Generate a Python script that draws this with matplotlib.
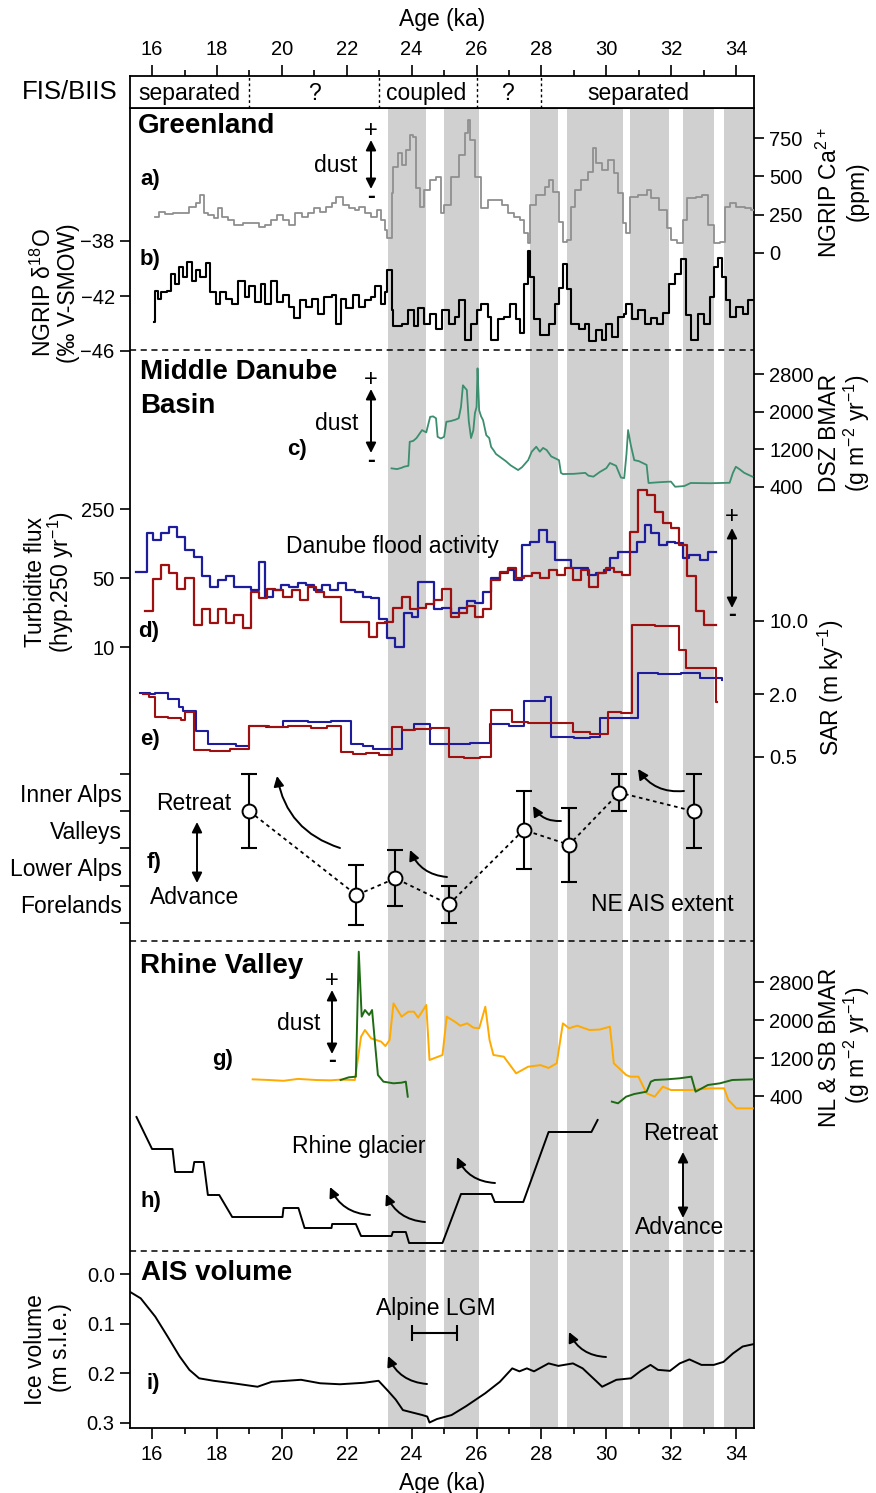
import numpy as np
import matplotlib.pyplot as plt
from matplotlib.ticker import NullLocator

plt.rcParams['font.family'] = ['Liberation Sans', 'DejaVu Sans']
plt.rcParams['mathtext.default'] = 'regular'

# ---------------- data ----------------
# grey interstadial bands (ka)
bands = [(23.27, 24.44), (25.01, 26.08), (27.65, 28.51), (28.79, 30.52),
         (30.73, 31.93), (32.37, 33.31), (33.63, 34.6)]

# FIS/BIIS state
fis_bounds = [19.0, 23.0, 26.0, 28.0]
fis_pos = [17.15, 21.0, 24.45, 26.95, 31.0]
fis_text = ['separated', '?', 'coupled', '?', 'separated']

# a) NGRIP Ca2+ (ppm)
a_age = [16.08, 16.21, 16.40, 16.65, 16.90, 17.15, 17.34, 17.47, 17.59, 17.72,
         17.91, 18.03, 18.16, 18.35, 18.54, 18.79, 19.04, 19.29, 19.48, 19.67,
         19.86, 20.05, 20.23, 20.42, 20.61, 20.80, 20.99, 21.18, 21.37, 21.55,
         21.68, 21.87, 22.06, 22.25, 22.37, 22.56, 22.75, 22.94, 23.06, 23.19,
         23.25, 23.38, 23.44, 23.57, 23.69, 23.82, 23.94, 24.04, 24.13, 24.26,
         24.38, 24.57, 24.76, 24.89, 25.01, 25.20, 25.45, 25.64, 25.74, 25.81,
         25.96, 26.15, 26.34, 26.59, 26.78, 26.96, 27.15, 27.34, 27.47, 27.59,
         27.66, 27.84, 28.10, 28.22, 28.35, 28.54, 28.66, 28.79, 28.91, 29.04,
         29.23, 29.42, 29.58, 29.67, 29.86, 30.05, 30.23, 30.36, 30.51, 30.61,
         30.74, 30.99, 31.24, 31.37, 31.62, 31.87, 31.99, 32.18, 32.37, 32.50,
         32.75, 32.94, 33.13, 33.32, 33.50, 33.66, 33.82, 34.01, 34.26, 34.45,
         34.57]
a_val = [237, 270, 256, 263, 263, 302, 328, 378, 263, 250,
         226, 291, 237, 215, 182, 193, 193, 171, 182, 215,
         248, 215, 182, 263, 237, 258, 291, 269, 302, 324,
         367, 313, 291, 280, 302, 258, 237, 280, 215, 150,
         96, 389, 563, 650, 574, 672, 770, 759, 422, 302,
         411, 476, 498, 258, 313, 498, 639, 781, 867, 737,
         498, 291, 345, 345, 313, 258, 237, 215, 128, 63,
         313, 378, 432, 476, 400, 204, 74, 85, 302, 411,
         476, 530, 683, 585, 541, 606, 520, 389, 193, 128,
         367, 378, 411, 356, 280, 161, 85, 63, 215, 356,
         367, 378, 182, 63, 74, 302, 324, 302, 291, 280,
         150]

# b) NGRIP d18O (permil)
b_age = [16.05, 16.08, 16.17, 16.27, 16.46, 16.59, 16.71, 16.84, 16.96, 17.09,
         17.22, 17.34, 17.47, 17.66, 17.78, 17.97, 18.10, 18.28, 18.47, 18.66,
         18.85, 18.98, 19.17, 19.35, 19.48, 19.67, 19.86, 20.05, 20.23, 20.36,
         20.55, 20.74, 20.93, 21.11, 21.30, 21.55, 21.68, 21.81, 21.99, 22.18,
         22.37, 22.56, 22.75, 22.88, 23.06, 23.19, 23.25, 23.38, 23.44, 23.69,
         23.88, 24.07, 24.20, 24.38, 24.57, 24.76, 24.95, 25.14, 25.33, 25.45,
         25.64, 25.83, 26.02, 26.15, 26.34, 26.46, 26.65, 26.84, 27.03, 27.22,
         27.34, 27.47, 27.57, 27.66, 27.78, 27.97, 28.22, 28.41, 28.54, 28.66,
         28.79, 28.91, 29.16, 29.35, 29.48, 29.67, 29.86, 29.98, 30.17, 30.36,
         30.55, 30.61, 30.80, 30.99, 31.18, 31.37, 31.56, 31.74, 31.93, 32.12,
         32.31, 32.44, 32.62, 32.81, 33.00, 33.19, 33.32, 33.44, 33.57, 33.69,
         33.82, 34.01, 34.20, 34.38, 34.57]
b_val = [-43.9, -41.6, -42.2, -41.7, -41.6, -40.4, -41.1, -39.9, -40.6, -39.5,
         -40.9, -40.1, -40.6, -39.6, -41.7, -42.6, -41.7, -42.2, -42.6, -40.9,
         -42.1, -41.3, -42.4, -41.1, -42.6, -40.9, -42.4, -41.9, -42.8, -43.6,
         -42.3, -42.8, -42.2, -43.3, -42.1, -41.9, -44.0, -42.2, -42.9, -41.9,
         -42.8, -42.3, -42.1, -41.3, -42.6, -41.7, -40.1, -43.0, -44.2, -44.0,
         -43.0, -44.2, -42.9, -44.0, -43.3, -44.4, -43.0, -44.0, -43.5, -42.3,
         -45.2, -44.0, -43.0, -42.6, -43.5, -45.2, -43.7, -43.5, -42.6, -43.7,
         -44.7, -41.1, -38.7, -40.6, -43.7, -44.8, -44.0, -42.6, -41.4, -39.7,
         -41.5, -44.0, -44.4, -44.0, -45.3, -44.5, -45.2, -44.0, -45.0, -43.5,
         -43.3, -42.6, -43.7, -43.0, -44.0, -43.6, -44.0, -43.2, -41.1, -40.4,
         -39.3, -43.4, -45.2, -43.3, -44.0, -42.1, -39.9, -39.2, -40.6, -42.3,
         -43.5, -42.8, -43.3, -42.3, -43.6]

# c) DSZ BMAR (g m-2 yr-1)
c_age = [23.38, 23.55, 23.70, 23.76, 23.90, 23.94, 24.05, 24.15, 24.32, 24.45,
         24.57, 24.66, 24.75, 24.80, 24.90, 25.00, 25.07, 25.20, 25.35, 25.45,
         25.52, 25.58, 25.65, 25.70, 25.76, 25.83, 25.90, 25.95, 26.00, 26.03,
         26.06, 26.08, 26.14, 26.20, 26.30, 26.39, 26.45, 26.52, 26.60, 26.77,
         26.90, 27.05, 27.28, 27.40, 27.59, 27.70, 27.84, 27.95, 28.05, 28.16,
         28.30, 28.45, 28.54, 28.60, 28.66, 29.00, 29.35, 29.45, 29.60, 29.80,
         30.00, 30.11, 30.30, 30.45, 30.55, 30.62, 30.67, 30.75, 30.86, 31.00,
         31.24, 31.30, 31.60, 31.99, 32.12, 32.40, 32.60, 33.20, 33.80, 33.90,
         33.99, 34.10, 34.25, 34.50]
c_val = [796, 780, 810, 830, 850, 1360, 1380, 1440, 1608, 1560,
         1890, 1900, 1860, 1466, 1430, 1466, 1785, 1800, 1830, 1860,
         2100, 2560, 2500, 2460, 1800, 1440, 1600, 1970, 2100, 2920,
         2400, 2030, 1900, 1820, 1500, 1440, 1250, 1185, 1100, 1015,
         950, 860, 760, 820, 970, 1150, 1255, 1150, 1230, 1185,
         1050, 1000, 970, 700, 675, 680, 700, 640, 620, 720,
         800, 910, 850, 600, 590, 1100, 1610, 1300, 970, 950,
         870, 485, 500, 515, 405, 420, 485, 480, 490, 700,
         830, 780, 700, 620]

# d) turbidite flux (two cores)
d_blue_age = [15.52, 15.83, 16.02, 16.27, 16.52, 16.78, 17.03, 17.28, 17.53, 17.78,
              18.03, 18.28, 18.54, 19.04, 19.29, 19.48, 19.73, 19.98, 20.23, 20.49,
              20.74, 20.99, 21.24, 21.49, 21.74, 21.99, 22.25, 22.50, 22.75, 23.00,
              23.25, 23.50, 23.76, 24.01, 24.20, 24.70, 24.95, 25.20, 25.45, 25.71,
              25.96, 26.21, 26.46, 26.71, 26.96, 27.15, 27.40, 27.66, 27.91, 28.16,
              28.41, 28.66, 28.91, 29.16, 29.42, 29.67, 29.92, 30.11, 30.36, 30.61,
              30.93, 31.18, 31.37, 31.62, 31.87, 32.12, 32.37, 32.56, 32.88, 33.13,
              33.38]
d_blue_val = [58, 144, 121, 144, 166, 131, 96, 81, 52, 41,
              48, 52, 41, 38, 73, 32, 38, 42, 41, 44,
              42, 38, 42, 38, 44, 38, 36, 32, 31, 19,
              12.2, 10.1, 22, 20, 46, 24, 25, 22, 25, 29,
              28, 36, 50, 56, 60, 48, 108, 117, 153, 117,
              76, 76, 63, 63, 54, 56, 60, 79, 92, 92,
              117, 172, 142, 108, 117, 112, 79, 85, 76, 92,
              92]
d_red_age = [15.77, 16.02, 16.27, 16.52, 16.78, 17.03, 17.28, 17.53, 17.78, 18.03,
             18.28, 18.54, 18.79, 19.04, 19.29, 19.54, 19.79, 20.05, 20.30, 20.55,
             20.80, 21.05, 21.30, 21.81, 22.69, 22.94, 23.19, 23.44, 23.69, 23.94,
             24.20, 24.45, 24.70, 24.95, 25.20, 25.45, 25.71, 25.96, 26.21, 26.46,
             26.71, 26.96, 27.21, 27.47, 27.72, 27.97, 28.22, 28.47, 28.72, 28.98,
             29.23, 29.48, 29.73, 29.98, 30.23, 30.48, 30.74, 30.99, 31.24, 31.49,
             31.74, 31.99, 32.25, 32.50, 32.75, 33.00, 33.38]
d_red_val = [23, 48.5, 68, 56, 39, 50, 16.7, 24, 17.4, 24,
             17.4, 21, 15.5, 36, 31, 39, 38, 32, 38, 30,
             41, 36, 32, 18, 12.7, 17.4, 18, 25, 32, 24,
             25, 27, 30, 39, 20, 22, 26, 20, 24, 48,
             58, 63, 50, 52, 56, 50, 60, 54, 63, 48,
             60, 41, 56, 63, 58, 54, 147, 390, 347, 235,
             179, 159, 108, 52, 23, 16.7, 16.7]

# e) sediment accumulation rate (m ky-1)
e_blue_age = [15.64, 15.95, 16.10, 16.50, 16.84, 16.96, 17.34, 17.72, 18.20, 18.60,
              18.98, 19.50, 20.05, 20.80, 21.50, 22.12, 22.50, 22.81, 23.20, 23.69,
              24.07, 24.57, 25.20, 25.80, 26.40, 27.00, 27.47, 28.10, 28.28, 29.00,
              29.50, 29.79, 30.99, 31.60, 32.30, 32.88, 33.57]
e_blue_val = [2.07, 2.02, 2.05, 1.78, 1.51, 1.39, 0.89, 0.67, 0.66, 0.64,
              0.99, 0.97, 1.11, 1.09, 1.10, 0.67, 0.64, 0.59, 0.60, 0.91,
              1.03, 0.67, 0.66, 0.68, 1.03, 1.00, 1.73, 1.86, 0.77, 0.76,
              0.78, 1.19, 3.16, 3.12, 3.18, 2.83, 2.75]
e_red_age = [15.71, 15.92, 16.08, 16.50, 16.90, 17.00, 17.28, 17.80, 18.40, 18.98,
             19.60, 20.20, 20.90, 21.40, 21.81, 22.20, 22.60, 23.00, 23.38, 23.69,
             24.10, 24.60, 25.14, 25.60, 26.10, 26.46, 27.09, 27.60, 28.22, 28.98,
             29.50, 30.05, 30.45, 30.80, 31.50, 32.25, 32.44, 33.38, 33.42]
e_red_val = [2.0, 1.89, 1.20, 1.17, 1.13, 1.36, 0.58, 0.57, 0.59, 0.99,
             0.96, 1.00, 0.95, 0.98, 0.56, 0.53, 0.55, 0.52, 0.96, 0.90,
             0.93, 0.94, 0.50, 0.49, 0.50, 1.41, 1.09, 1.06, 1.05, 0.87,
             0.83, 1.36, 1.33, 9.2, 9.0, 5.3, 3.55, 1.68, 1.68]

# f) NE Alpine ice sheet extent (0 = forelands ... 4 = inner Alps)
f_age = [19.0, 22.3, 23.5, 25.15, 27.45, 28.85, 30.4, 32.7]
f_val = [3.0, 0.75, 1.2, 0.5, 2.5, 2.1, 3.5, 3.0]
f_err = [1.0, 0.8, 0.75, 0.5, 1.05, 1.0, 0.5, 1.0]
f_cats = ['Forelands', 'Lower Alps', 'Valleys', 'Inner Alps']

# g) NL & SB BMAR (g m-2 yr-1)
g_sb_age = [19.10, 19.60, 20.05, 20.50, 21.05, 21.50, 21.81, 22.25, 22.31, 22.44,
            22.56, 22.75, 23.06, 23.19, 23.32, 23.44, 23.69, 23.90, 24.07, 24.20,
            24.32, 24.45, 24.55, 24.95, 25.08, 25.33, 25.50, 25.71, 25.90, 26.08,
            26.27, 26.40, 26.52, 26.84, 27.22, 27.59, 27.97, 28.22, 28.47, 28.66,
            28.85, 29.10, 29.48, 29.80, 30.11, 30.23, 30.61, 30.74, 30.99, 31.24,
            31.49, 31.74, 31.99, 32.62, 33.20, 33.63, 33.76, 34.01, 34.51]
g_sb_val = [751, 737, 720, 760, 737, 730, 745, 737, 1017, 1649,
            1789, 1614, 1544, 1452, 1579, 2351, 2070, 2175, 2175, 2050,
            2175, 2316, 1158, 1263, 2070, 1965, 1880, 1930, 1840, 1825,
            2280, 1579, 1263, 1228, 877, 1017, 1050, 990, 1088, 1930,
            1826, 1880, 1789, 1800, 1860, 1088, 842, 807, 807, 456,
            386, 596, 526, 526, 560, 562, 316, 140, 140]
g_nl1_age = [21.81, 22.06, 22.28, 22.37, 22.46, 22.56, 22.69, 22.78, 22.88, 22.96,
             23.13, 23.44, 23.69, 23.82, 23.88]
g_nl1_val = [737, 793, 807, 3438, 2070, 2210, 2105, 2210, 1438, 842,
             702, 667, 681, 702, 386]
g_nl2_age = [30.17, 30.36, 30.61, 30.86, 31.24, 31.37, 31.49, 31.87, 32.25, 32.62,
             32.75, 33.13, 33.50, 33.88, 34.51]
g_nl2_val = [281, 246, 386, 442, 491, 702, 737, 751, 772, 807,
             491, 632, 667, 737, 751]

# h) Rhine glacier position (relative, 0 = most advanced)
h_age = [15.52, 16.00, 16.63, 16.71, 17.25, 17.30, 17.59, 17.72, 18.07, 18.47,
         20.02, 20.05, 20.51, 20.70, 21.53, 21.55, 22.28, 22.44, 23.38, 23.42,
         23.82, 23.92, 24.95, 25.52, 26.46, 26.56, 27.44, 28.22, 29.54, 29.73]
h_val = [13.3, 10.1, 10.1, 7.8, 7.8, 8.8, 8.8, 5.5, 5.5, 3.3,
         3.3, 4.2, 4.2, 2.2, 2.2, 2.6, 2.6, 1.4, 1.4, 1.8,
         1.8, 0.7, 0.7, 5.6, 5.6, 4.8, 4.8, 11.8, 11.8, 13.0]

# i) AIS ice volume (m s.l.e.)
i_age = [15.32, 15.65, 16.10, 16.48, 16.85, 17.15, 17.45, 17.90, 18.50, 19.25,
         19.69, 20.59, 21.18, 21.79, 22.53, 22.98, 23.28, 23.51, 23.73, 24.03,
         24.33, 24.48, 24.55, 24.78, 25.23, 25.68, 26.27, 26.72, 27.10, 27.32,
         27.55, 27.77, 28.22, 28.52, 28.97, 29.27, 29.71, 29.87, 30.31, 30.76,
         31.06, 31.36, 31.59, 31.96, 32.26, 32.56, 32.93, 33.31, 33.61, 33.90,
         34.20, 34.55]
i_val = [0.036, 0.049, 0.086, 0.126, 0.166, 0.193, 0.210, 0.215, 0.220, 0.227,
         0.217, 0.213, 0.220, 0.222, 0.219, 0.215, 0.236, 0.253, 0.274, 0.279,
         0.284, 0.287, 0.299, 0.292, 0.284, 0.266, 0.240, 0.217, 0.190, 0.196,
         0.190, 0.196, 0.180, 0.185, 0.180, 0.190, 0.217, 0.227, 0.213, 0.210,
         0.195, 0.183, 0.193, 0.195, 0.180, 0.172, 0.183, 0.183, 0.177, 0.160,
         0.146, 0.141]
lgm = (24.0, 25.4)

# ---------------- layout ----------------
W, H = 876.0, 1493.0
X0, X1 = 130, 754
XMIN, XMAX = 15.32, 34.55
GREY = '#d0d0d0'
BLUE = '#1c1c9c'
RED = '#9e1010'
TS = 14.5   # tick label size
AS = 16.5   # annotation size

fig = plt.figure(figsize=(W / 100, H / 100), dpi=100)


def rect(top, bot):
    return [X0 / W, 1 - bot / H, (X1 - X0) / W, (bot - top) / H]


def P(x, y):
    return (x / W, 1 - y / H)


def txt(x, y, s, **kw):
    kw.setdefault('ha', 'center')
    kw.setdefault('va', 'center')
    kw.setdefault('fontsize', AS)
    fig.text(x / W, 1 - y / H, s, **kw)


def arrow(tail, head, rad=-0.3, style='-|>'):
    ax0.annotate('', xy=P(*head), xytext=P(*tail), xycoords='figure fraction',
                 textcoords='figure fraction',
                 arrowprops=dict(arrowstyle=style, connectionstyle=f'arc3,rad={rad}',
                                 color='k', lw=1.4, mutation_scale=15,
                                 shrinkA=0, shrinkB=0))


def panel(top, bot, v1, p1, v2, p2, log=False):
    ax = fig.add_axes(rect(top, bot))
    f = np.log10 if log else (lambda v: v)
    a1, a2 = f(v1), f(v2)
    k = (a2 - a1) / (p2 - p1)
    lo, hi = a1 + (bot - p1) * k, a1 + (top - p1) * k
    if log:
        ax.set_yscale('log')
        lo, hi = 10 ** lo, 10 ** hi
    ax.set_ylim(lo, hi)
    ax.set_xlim(XMIN, XMAX)
    ax.patch.set_visible(False)
    for s in ax.spines.values():
        s.set_visible(False)
    ax.tick_params(axis='x', bottom=False, labelbottom=False)
    ax.set_yticks([])
    ax.yaxis.set_minor_locator(NullLocator())
    return ax


def yticks(ax, side, vals, labels):
    ax.set_yticks(vals, labels)
    ax.yaxis.set_minor_locator(NullLocator())
    if side == 'right':
        ax.yaxis.tick_right()
    else:
        ax.yaxis.tick_left()
    ax.tick_params(axis='y', direction='out', length=7, width=1.2,
                   labelsize=TS, pad=4)


# main frame with bands
ax0 = fig.add_axes(rect(108, 1428))
ax0.set_xlim(XMIN, XMAX)
ax0.set_ylim(1428, 108)
for s0, s1 in bands:
    ax0.axvspan(s0, s1, color=GREY, lw=0)
for yy in (350, 941, 1251):
    ax0.axhline(yy, color='k', ls=(0, (4, 3)), lw=1.1)
ax0.set_yticks([])
ax0.set_xticks(np.arange(16, 35, 2))
ax0.set_xticks(np.arange(17, 35, 2), minor=True)
ax0.tick_params(axis='x', which='major', direction='out', length=8, width=1.2,
                labelsize=TS, pad=4)
ax0.tick_params(axis='x', which='minor', direction='out', length=4, width=1.2)
ax0.set_xlabel('Age (ka)', fontsize=AS, labelpad=6)
for s in ax0.spines.values():
    s.set_linewidth(1.3)

# FIS/BIIS box
axt = fig.add_axes(rect(76, 108))
axt.set_xlim(XMIN, XMAX)
axt.set_ylim(0, 1)
axt.set_yticks([])
axt.xaxis.tick_top()
axt.xaxis.set_label_position('top')
axt.set_xticks(np.arange(16, 35, 2))
axt.set_xticks(np.arange(17, 35, 2), minor=True)
axt.tick_params(axis='x', which='major', direction='out', length=8, width=1.2,
                labelsize=TS, pad=4)
axt.tick_params(axis='x', which='minor', direction='out', length=4, width=1.2)
axt.set_xlabel('Age (ka)', fontsize=AS, labelpad=10)
for s in axt.spines.values():
    s.set_linewidth(1.3)
for xb in fis_bounds:
    axt.axvline(xb, color='k', ls=(0, (2, 2)), lw=1)
for xp, t in zip(fis_pos, fis_text):
    axt.text(xp, 0.45, t, ha='center', va='center', fontsize=AS)
txt(118, 92, 'FIS/BIIS', ha='right', fontsize=18.5)

# a) Ca
pa = panel(108, 262, 0, 253, 750, 138)
pa.plot(a_age, a_val, color='#8f8f8f', lw=1.3, drawstyle='steps-post')
yticks(pa, 'right', [0, 250, 500, 750], ['0', '250', '500', '750'])

# b) d18O
pb = panel(200, 352, -38, 241, -46, 351)
pb.plot(b_age, b_val, color='k', lw=1.5, drawstyle='steps-post')
yticks(pb, 'left', [-38, -42, -46], ['\u221238', '\u221242', '\u221246'])

# c) DSZ BMAR
pc = panel(350, 500, 400, 487, 2800, 374)
pc.plot(c_age, c_val, color='#3b8e6e', lw=1.3)
yticks(pc, 'right', [400, 1200, 2000, 2800], ['400', '1200', '2000', '2800'])

# d) turbidite flux
pdd = panel(470, 660, 10, 647, 250, 509, log=True)
pdd.plot(d_blue_age, d_blue_val, color=BLUE, lw=1.6, drawstyle='steps-post')
pdd.plot(d_red_age, d_red_val, color=RED, lw=1.6, drawstyle='steps-post')
yticks(pdd, 'left', [10, 50, 250], ['10', '50', '250'])

# e) SAR
pe = panel(600, 780, 0.5, 757, 10, 621, log=True)
pe.plot(e_blue_age, e_blue_val, color=BLUE, lw=1.5, drawstyle='steps-post')
pe.plot(e_red_age, e_red_val, color=RED, lw=1.5, drawstyle='steps-post')
yticks(pe, 'right', [0.5, 2, 10], ['0.5', '2.0', '10.0'])

# f) NE AIS extent
pf = panel(760, 935, 0, 923, 4, 774)
pf.errorbar(f_age, f_val, yerr=f_err, fmt='none', ecolor='k', elinewidth=1.5,
            capsize=6, capthick=1.5)
pf.plot(f_age, f_val, color='k', ls=(0, (2, 2)), lw=1.3)
pf.plot(f_age, f_val, 'o', ms=10, mfc='white', mec='k', mew=1.4, zorder=5)
yticks(pf, 'left', [0, 1, 2, 3, 4], [''] * 5)
pf.set_yticks([0.5, 1.5, 2.5, 3.5], f_cats, minor=True)
pf.tick_params(axis='y', which='minor', length=0, labelsize=16.5, pad=6)

# g) NL & SB BMAR
pg = panel(941, 1110, 400, 1096, 2800, 982)
pg.plot(g_sb_age, g_sb_val, color='#ffaa00', lw=1.4)
pg.plot(g_nl1_age, g_nl1_val, color='#1e6b14', lw=1.4)
pg.plot(g_nl2_age, g_nl2_val, color='#1e6b14', lw=1.4)
yticks(pg, 'right', [400, 1200, 2000, 2800], ['400', '1200', '2000', '2800'])

# h) Rhine glacier
ph = panel(1100, 1251, 0, 1250, 10, 1150)
ph.plot(h_age, h_val, color='k', lw=1.4)

# i) AIS volume
pi = panel(1251, 1428, 0.0, 1274, 0.3, 1423)
pi.plot(i_age, i_val, color='k', lw=1.4)
pi.errorbar([(lgm[0] + lgm[1]) / 2], [0.119], xerr=[(lgm[1] - lgm[0]) / 2],
            fmt='none', ecolor='k', elinewidth=1.5, capsize=6, capthick=1.5)
yticks(pi, 'left', [0.0, 0.1, 0.2, 0.3], ['0.0', '0.1', '0.2', '0.3'])

# ---------------- annotations ----------------
for x, y, s in [(138, 126, 'Greenland'), (140, 372, 'Middle Danube'),
                (140, 406, 'Basin'), (140, 966, 'Rhine Valley'),
                (141, 1273, 'AIS volume')]:
    txt(x, y, s, ha='left', fontsize=20, fontweight='bold')

for x, y, s in [(140, 180, 'a)'), (140, 260, 'b)'), (287, 450, 'c)'),
                (138, 631, 'd)'), (140, 740, 'e)'), (147, 862, 'f)'),
                (212, 1059, 'g)'), (140, 1201, 'h)'), (146, 1384, 'i)')]:
    txt(x, y, s, ha='left', fontsize=16, fontweight='bold')

# dust arrows
for x, y0, y1, tx, ty in [(371, 140, 189, 336, 165), (371, 389, 453, 337, 424),
                          (332, 990, 1054, 299, 1024)]:
    arrow((x, y1), (x, y0), rad=0, style='<|-|>')
    txt(tx, ty, 'dust')
    txt(x, y0 - 9, '+', fontsize=17)
    txt(x, y1 + 7, '-', fontsize=17, fontweight='bold')
arrow((732, 608), (732, 528), rad=0, style='<|-|>')
txt(732, 517, '+', fontsize=17)
txt(732, 614, '-', fontsize=17, fontweight='bold')

txt(392, 546, 'Danube flood activity')

# f annotations
txt(194, 803, 'Retreat')
txt(195, 897, 'Advance')
arrow((197, 883), (197, 822), rad=0, style='<|-|>')
txt(662, 905, 'NE AIS extent')
arrow((340, 848), (277, 776))
arrow((447, 877), (410, 850))
arrow((561, 821), (533, 806))
arrow((684, 791), (638, 769))

# h annotations
txt(359, 1147, 'Rhine glacier')
txt(681, 1133, 'Retreat')
txt(680, 1228, 'Advance')
arrow((683, 1218), (683, 1152), rad=0, style='<|-|>')
arrow((370, 1215), (330, 1187))
arrow((425, 1222), (386, 1194))
arrow((495, 1183), (457, 1157))

# i annotations
txt(436, 1309, 'Alpine LGM')
arrow((427, 1384), (388, 1356))
arrow((606, 1357), (569, 1332))

# axis titles
txt(43, 293, 'NGRIP \u03b4$^{18}$O', rotation=90)
txt(68, 293, '(\u2030 V-SMOW)', rotation=90)
txt(35, 582, 'Turbidite flux', rotation=90)
txt(61, 582, '(hyp.250 yr$^{-1}$)', rotation=90)
txt(36, 1350, 'Ice volume', rotation=90)
txt(60, 1348, '(m s.l.e.)', rotation=90)
txt(829, 193, 'NGRIP Ca$^{2+}$', rotation=90)
txt(857, 191, '(ppm)', rotation=90)
txt(829, 433, 'DSZ BMAR', rotation=90)
txt(857, 433, '(g m$^{-2}$ yr$^{-1}$)', rotation=90)
txt(831, 688, 'SAR (m ky$^{-1}$)', rotation=90)
txt(829, 1047, 'NL & SB BMAR', rotation=90)
txt(857, 1045, '(g m$^{-2}$ yr$^{-1}$)', rotation=90)

fig.savefig('out.png', dpi=100)
